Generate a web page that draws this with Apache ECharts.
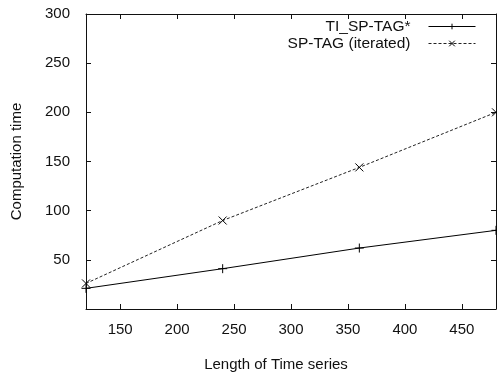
<!DOCTYPE html>
<html>
<head>
<meta charset="utf-8">
<script src="https://cdn.jsdelivr.net/npm/echarts@6/dist/echarts.min.js"></script>
<style>
  html, body { margin: 0; padding: 0; background: #fff; }
  #chart { width: 497px; height: 377px; }
</style>
</head>
<body>
<div id="chart"></div>
<script>
// Series lengths and measured computation times
const lengths = [120, 240, 360, 480];
const tiSpTag = [21, 41, 62, 80];
const spTagIterated = [26, 90, 144, 200];

const xTicks = [150, 200, 250, 300, 350, 400, 450];
const yTicks = [50, 100, 150, 200, 250, 300];

const FONT = '"Liberation Sans", Arial, sans-serif';
const INK = '#111';

// gnuplot-style point symbols drawn as stroked paths
const PLUS = 'path://M0,5L10,5M5,0L5,10';
const CROSS = 'path://M0,0L10,10M10,0L0,10';

function pairs(ys) {
  return lengths.map((x, i) => [x, ys[i]]);
}

const chart = echarts.init(document.getElementById('chart'), null, { renderer: 'canvas' });

const tickStyle = { inside: true, length: 5, lineStyle: { color: INK, width: 1 } };
const lineStyleAxis = { show: true, onZero: false, lineStyle: { color: INK, width: 1 } };

chart.setOption({
  animation: false,
  backgroundColor: '#fff',
  grid: { left: 86, right: 1, top: 14, bottom: 68, containLabel: false },
  legend: {
    orient: 'vertical',
    right: 21,
    top: 18,
    padding: 0,
    align: 'right',
    itemWidth: 47,
    itemHeight: 7,
    itemGap: 0,
    selectedMode: false,
    itemStyle: { borderWidth: 1 },
    lineStyle: { width: 1 },
    textStyle: { fontFamily: FONT, fontSize: 15.5, color: INK, padding: [0, 13, 0, 0], lineHeight: 17 },
    data: ['TI_SP-TAG*', 'SP-TAG (iterated)']
  },
  xAxis: [
    {
      type: 'value', position: 'bottom', min: 120, max: 480,
      name: 'Length of Time series', nameLocation: 'middle', nameGap: 48,
      nameTextStyle: { fontFamily: FONT, fontSize: 15, color: INK, padding: [0, 30, 0, 0] },
      axisLine: lineStyleAxis,
      axisTick: Object.assign({ customValues: xTicks }, tickStyle),
      axisLabel: { customValues: xTicks, margin: 13, fontFamily: FONT, fontSize: 15, color: INK },
      splitLine: { show: false }
    },
    {
      type: 'value', position: 'top', min: 120, max: 480,
      axisLine: lineStyleAxis,
      axisTick: Object.assign({ customValues: xTicks }, tickStyle),
      axisLabel: { show: false },
      splitLine: { show: false }
    }
  ],
  yAxis: [
    {
      type: 'value', position: 'left', min: 0, max: 300,
      name: 'Computation time', nameLocation: 'middle', nameGap: 62, nameRotate: 90,
      nameTextStyle: { fontFamily: FONT, fontSize: 15, color: INK },
      axisLine: lineStyleAxis,
      axisTick: Object.assign({ customValues: yTicks }, tickStyle),
      axisLabel: { customValues: yTicks, margin: 16, fontFamily: FONT, fontSize: 15, color: INK },
      splitLine: { show: false }
    },
    {
      type: 'value', position: 'right', min: 0, max: 300,
      axisLine: lineStyleAxis,
      axisTick: Object.assign({ customValues: yTicks }, tickStyle),
      axisLabel: { show: false },
      splitLine: { show: false }
    }
  ],
  series: [
    {
      name: 'TI_SP-TAG*',
      type: 'line',
      xAxisIndex: 0, yAxisIndex: 0,
      data: pairs(tiSpTag),
      symbol: PLUS,
      symbolSize: 9,
      showAllSymbol: true,
      lineStyle: { color: '#000', width: 1 },
      itemStyle: { color: 'rgba(0,0,0,0)', borderColor: '#000', borderWidth: 1 },
      emphasis: { disabled: true }
    },
    {
      name: 'SP-TAG (iterated)',
      type: 'line',
      xAxisIndex: 0, yAxisIndex: 0,
      data: pairs(spTagIterated),
      symbol: CROSS,
      symbolSize: 8,
      showAllSymbol: true,
      lineStyle: { color: '#222', width: 1, type: [3, 2] },
      itemStyle: { color: 'rgba(0,0,0,0)', borderColor: '#000', borderWidth: 1 },
      emphasis: { disabled: true }
    }
  ]
});
</script>
</body>
</html>
